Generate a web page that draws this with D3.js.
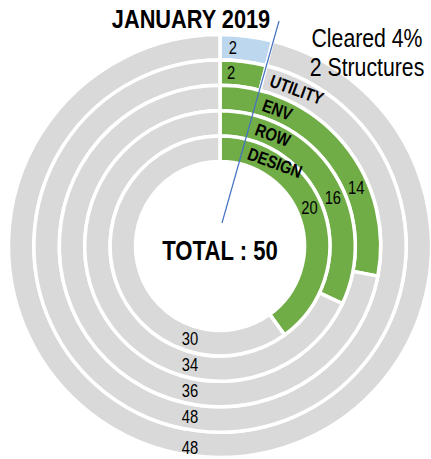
<!DOCTYPE html>
<html>
<head>
<meta charset="utf-8">
<script src="https://cdn.jsdelivr.net/npm/d3@7"></script>
<style>
  body { margin: 0; background: #fff; }
  text { font-family: "Liberation Sans", Arial, sans-serif; }
</style>
</head>
<body>
<svg width="431" height="459"></svg>
<script>
// rings, outer to inner
var rings = ["Cleared", "UTILITY", "ENV", "ROW", "DESIGN"];
var done = [2, 2, 14, 16, 20];      // coloured part
var remaining = [48, 48, 36, 34, 30]; // grey part
var total = 50;
var ringColors = ["#BDD7EE", "#70AD47", "#70AD47", "#70AD47", "#70AD47"];

var svg = d3.select("svg"),
    cx = 220, cy = 246,
    narrow = 0.82; // squeeze Liberation Sans to look like Arial Narrow

var g = svg.append("g").attr("transform", "translate(" + cx + "," + cy + ")");

// radius per ring
var r = d3.scaleBand()
    .domain(rings.slice().reverse())
    .range([84.5, 211.5])
    .padding(0);

var angle = d3.scaleLinear()
    .domain([0, total])
    .range([0, 2 * Math.PI]);

var arc = d3.arc();

var segs = [];
rings.forEach(function(k, i) {
  segs.push({ring: k, a0: 0, a1: done[i], v: done[i], color: ringColors[i], grey: false});
  segs.push({ring: k, a0: done[i], a1: done[i] + remaining[i], v: remaining[i], color: "#D9D9D9", grey: true});
});

g.selectAll("path.seg")
  .data(segs)
  .enter().append("path")
    .attr("class", "seg")
    .attr("fill", function(d) { return d.color; })
    .attr("stroke", "#fff")
    .attr("stroke-width", 3.5)
    .attr("d", function(d) {
      return arc({
        innerRadius: r(d.ring),
        outerRadius: r(d.ring) + r.bandwidth(),
        startAngle: angle(d.a0),
        endAngle: angle(d.a1)
      });
    });

function mid(k) { return r(k) + r.bandwidth() / 2; }

function labelPos(d) {
  var m = mid(d.ring);
  if (d.grey) return [-30, Math.sqrt(m * m - 900) + (d.ring === "Cleared" ? 5 : 0)];
  var a = (d.v < 5 ? 3.7 : 67) * Math.PI / 180;
  return [m * Math.sin(a), -m * Math.cos(a)];
}

// value labels
g.selectAll("text.val")
  .data(segs)
  .enter().append("text")
    .attr("class", "val")
    .attr("text-anchor", "middle")
    .attr("dy", "0.35em")
    .attr("font-size", 18)
    .attr("fill", "#000")
    .attr("transform", function(d) {
      var p = labelPos(d);
      return "translate(" + p[0] + "," + p[1] + ") scale(" + narrow + ",1)";
    })
    .text(function(d) { return d.v; });

// category labels along the rings
g.selectAll("text.cat")
  .data(rings.slice(1))
  .enter().append("text")
    .attr("class", "cat")
    .attr("text-anchor", "start")
    .attr("dy", "0.35em")
    .attr("font-size", 18)
    .attr("font-weight", "bold")
    .attr("transform", function(k) {
      var a = 17 * Math.PI / 180, m = mid(k);
      return "translate(" + (m * Math.sin(a)) + "," + (-m * Math.cos(a)) + ") rotate(20) scale(" + narrow + ",1)";
    })
    .text(function(k) { return k; });

// pointer line
g.append("line")
  .attr("x1", 2).attr("y1", -23)
  .attr("x2", 59).attr("y2", -225)
  .attr("stroke", "#4472C4")
  .attr("stroke-width", 1.2);

g.append("text")
  .attr("text-anchor", "middle")
  .attr("transform", "translate(0,14) scale(" + narrow + ",1)")
  .attr("font-size", 27)
  .attr("font-weight", "bold")
  .text("TOTAL : " + total);

svg.append("text")
  .attr("text-anchor", "middle")
  .attr("transform", "translate(191,28) scale(0.87,1)")
  .attr("font-size", 25)
  .attr("font-weight", "bold")
  .text("JANUARY 2019");

svg.append("text")
  .attr("text-anchor", "middle")
  .attr("transform", "translate(367,47) scale(0.85,1)")
  .attr("font-size", 25)
  .text("Cleared " + (done[0] / total * 100) + "%");

svg.append("text")
  .attr("text-anchor", "middle")
  .attr("transform", "translate(367,76) scale(0.85,1)")
  .attr("font-size", 25)
  .text(done[0] + " Structures");
</script>
</body>
</html>
